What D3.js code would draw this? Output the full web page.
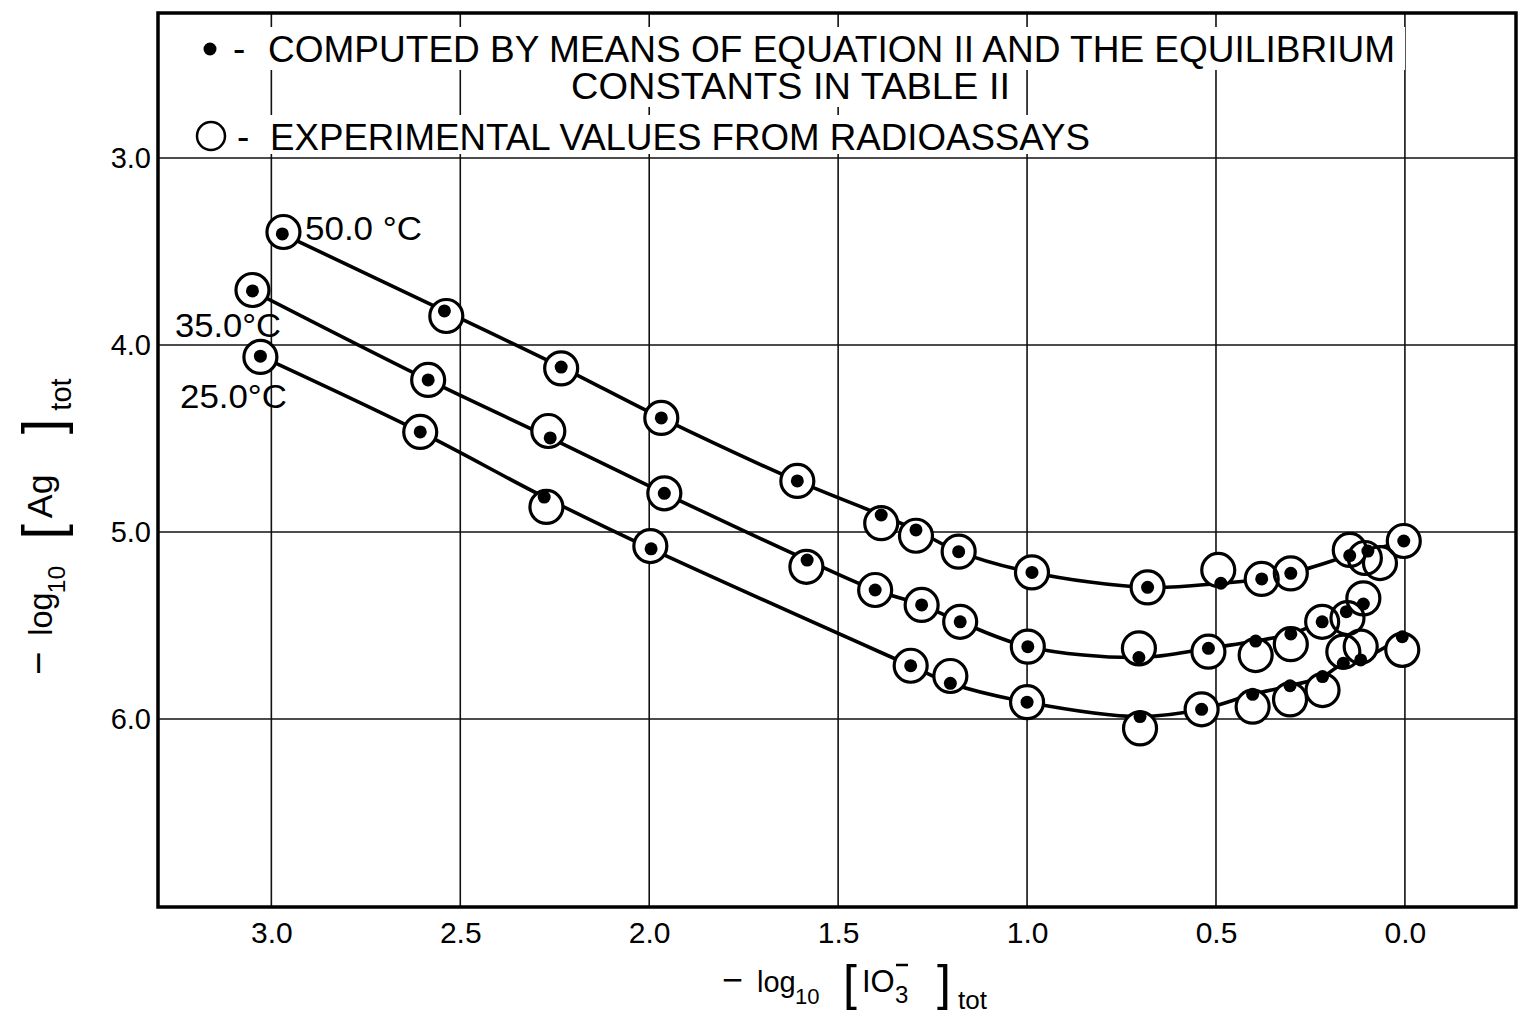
<!DOCTYPE html>
<html>
<head>
<meta charset="utf-8">
<script src="https://cdn.jsdelivr.net/npm/d3@7"></script>
<style>
  body { margin: 0; background: #fff; }
  svg { display: block; }
  text { font-family: "Liberation Sans", Arial, sans-serif; fill: #000; }
</style>
</head>
<body>
<svg width="1524" height="1019"></svg>
<script>
// axis ticks
const xTicks = [3.0, 2.5, 2.0, 1.5, 1.0, 0.5, 0.0];
const yTicks = [3.0, 4.0, 5.0, 6.0];

// -log10[IO3-]tot , -log10[Ag]tot
const computed50 = [[2.971,3.406],[2.542,3.818],[2.233,4.118],[1.968,4.39],[1.608,4.727],[1.386,4.909],
  [1.294,4.989],[1.181,5.105],[0.987,5.216],[0.681,5.296],[0.487,5.274],[0.379,5.251],[0.302,5.221],
  [0.146,5.126],[0.098,5.102],[0.003,5.048]];
const experimental50 = [[2.968,3.396],[2.537,3.845],[2.233,4.125],[1.968,4.39],[1.608,4.727],[1.386,4.953],
  [1.294,5.02],[1.181,5.105],[0.987,5.216],[0.681,5.296],[0.494,5.203],[0.379,5.251],[0.302,5.221],
  [0.146,5.096],[0.106,5.139],[0.066,5.166],[0.003,5.048]];

const computed35 = [[3.05,3.711],[2.585,4.187],[2.262,4.497],[1.96,4.793],[1.582,5.15],[1.402,5.31],
  [1.279,5.39],[1.177,5.48],[0.998,5.613],[0.704,5.671],[0.52,5.622],[0.395,5.583],[0.302,5.545],
  [0.219,5.48],[0.155,5.426],[0.11,5.385]];
const experimental35 = [[3.05,3.706],[2.585,4.187],[2.267,4.46],[1.96,4.793],[1.584,5.186],[1.402,5.31],
  [1.279,5.39],[1.177,5.48],[0.998,5.613],[0.704,5.622],[0.52,5.64],[0.395,5.658],[0.302,5.6],
  [0.219,5.48],[0.152,5.46],[0.11,5.355]];

const computed25 = [[3.029,4.06],[2.606,4.465],[2.278,4.813],[1.995,5.09],[1.308,5.715],[1.203,5.809],
  [1.0,5.91],[0.701,5.987],[0.538,5.948],[0.403,5.868],[0.304,5.822],[0.218,5.773],[0.163,5.702],
  [0.117,5.684],[0.007,5.56]];
const experimental25 = [[3.029,4.064],[2.606,4.465],[2.272,4.866],[1.997,5.075],[1.308,5.715],[1.203,5.77],
  [1.0,5.91],[0.701,6.05],[0.538,5.948],[0.403,5.934],[0.304,5.895],[0.218,5.845],[0.163,5.64],
  [0.117,5.613],[0.007,5.63]];

const seriesNames = ["50.0 °C", "35.0°C", "25.0°C"];

const svg = d3.select("svg");
const pLeft = 158, pRight = 1516, pTop = 13, pBottom = 907;

const x = d3.scaleLinear().domain([3.3, -0.294]).range([pLeft, pRight]);
const y = d3.scaleLinear().domain([2.225, 7.005]).range([pTop, pBottom]);

// grid
svg.append("g").selectAll("line").data(xTicks).enter().append("line")
  .attr("x1", d => x(d)).attr("x2", d => x(d))
  .attr("y1", pTop).attr("y2", pBottom)
  .attr("stroke", "#111").attr("stroke-width", 1.6);

// legend (white patches hide the grid behind the lettering)
const legend = svg.append("g");
const legendLines = [
  {t: "COMPUTED BY MEANS OF EQUATION II AND THE EQUILIBRIUM", x: 268, y: 62, w: 1127},
  {t: "CONSTANTS IN TABLE II", x: 571, y: 99, w: 439},
  {t: "EXPERIMENTAL VALUES FROM RADIOASSAYS", x: 270, y: 150, w: 820}
];
const bgs = legend.append("g");
const lt = legend.selectAll("text.leg").data(legendLines).enter().append("text")
  .attr("class", "leg")
  .attr("x", d => d.x).attr("y", d => d.y)
  .attr("font-size", 37)
  .attr("textLength", d => d.w).attr("lengthAdjust", "spacingAndGlyphs")
  .text(d => d.t);
lt.each(function() {
  const b = this.getBBox();
  const y0 = b.y - 2, y1 = Math.min(b.y + b.height, 154);
  bgs.append("rect").attr("x", b.x - 80).attr("y", y0)
    .attr("width", b.width + 90).attr("height", y1 - y0).attr("fill", "#fff");
});
bgs.append("rect").attr("x", 190).attr("y", 30).attr("width", 70).attr("height", 122).attr("fill", "#fff");
legend.append("circle").attr("cx", 210).attr("cy", 49).attr("r", 6.5).attr("fill", "#000");
legend.append("text").attr("x", 233).attr("y", 61).attr("font-size", 37).text("-");
legend.append("circle").attr("cx", 211).attr("cy", 136).attr("r", 14)
  .attr("fill", "none").attr("stroke", "#000").attr("stroke-width", 2.5);
legend.append("text").attr("x", 237).attr("y", 149).attr("font-size", 37).text("-");

svg.append("g").selectAll("line").data(yTicks).enter().append("line")
  .attr("x1", pLeft).attr("x2", pRight)
  .attr("y1", d => y(d)).attr("y2", d => y(d))
  .attr("stroke", "#111").attr("stroke-width", 1.6);

// frame
svg.append("rect").attr("x", pLeft).attr("y", pTop)
  .attr("width", pRight - pLeft).attr("height", pBottom - pTop)
  .attr("fill", "none").attr("stroke", "#000").attr("stroke-width", 3.5);

// axes
const xAxis = svg.append("g").attr("transform", `translate(0,${pBottom})`)
  .call(d3.axisBottom(x).tickValues(xTicks).tickFormat(d3.format(".1f")).tickSize(0).tickPadding(15));
xAxis.select(".domain").remove();
xAxis.selectAll("text").attr("font-size", 30).attr("font-family", "Liberation Sans").attr("fill", "#000");

const yAxis = svg.append("g").attr("transform", `translate(${pLeft},0)`)
  .call(d3.axisLeft(y).tickValues(yTicks).tickFormat(d3.format(".1f")).tickSize(0).tickPadding(7));
yAxis.select(".domain").remove();
yAxis.selectAll("text").attr("font-size", 29).attr("font-family", "Liberation Sans").attr("fill", "#000");

// curves and points
const line = d3.line().x(d => x(d[0])).y(d => y(d[1])).curve(d3.curveCatmullRom.alpha(0.5));
const computed = [computed50, computed35, computed25];
const experimental = [experimental50, experimental35, experimental25];

const plot = svg.append("g");
plot.selectAll("path.curve").data(computed).enter().append("path")
  .attr("class", "curve").attr("d", line)
  .attr("fill", "none").attr("stroke", "#000").attr("stroke-width", 3.6);

const allExp = experimental.flat();
plot.selectAll("circle.mask").data(allExp).enter().append("circle")
  .attr("class", "mask").attr("cx", d => x(d[0])).attr("cy", d => y(d[1])).attr("r", 16)
  .attr("fill", "#fff");
plot.selectAll("circle.exp").data(allExp).enter().append("circle")
  .attr("class", "exp").attr("cx", d => x(d[0])).attr("cy", d => y(d[1])).attr("r", 16.5)
  .attr("fill", "none").attr("stroke", "#000").attr("stroke-width", 3.2);
plot.selectAll("circle.comp").data(computed.flat()).enter().append("circle")
  .attr("class", "comp").attr("cx", d => x(d[0])).attr("cy", d => y(d[1])).attr("r", 6.5)
  .attr("fill", "#000");

// series labels
const labelPos = [{x: 305, y: 240, w: 117}, {x: 175, y: 337, w: 106}, {x: 180, y: 408, w: 107}];
svg.append("g").selectAll("text").data(seriesNames).enter().append("text")
  .attr("x", (d, i) => labelPos[i].x).attr("y", (d, i) => labelPos[i].y)
  .attr("font-size", 33)
  .attr("textLength", (d, i) => labelPos[i].w).attr("lengthAdjust", "spacingAndGlyphs")
  .text(d => d);

// axis titles: pieces laid out along the baseline
const titlePieces = (g, inner) => {
  const parts = [
    {t: "\u2212", dx: 0, dy: 0, s: 36},
    {t: "log", dx: 35, dy: 0, s: 29},
    {t: "10", dx: 73, dy: 12, s: 22},
    {t: "[", dx: 121, dy: 8, s: 50},
    ...inner,
    {t: "]", dx: 215, dy: 8, s: 50},
    {t: "tot", dx: 236, dy: 17, s: 26}
  ];
  g.selectAll("text").data(parts).enter().append("text")
    .attr("x", d => d.dx).attr("y", d => d.dy)
    .attr("font-size", d => d.s).text(d => d.t);
};

const xTitle = svg.append("g").attr("transform", "translate(722,992)");
titlePieces(xTitle, [{t: "IO", dx: 140, dy: 0, s: 31}, {t: "3", dx: 173, dy: 11, s: 24}]);
xTitle.append("line").attr("x1", 174).attr("x2", 186).attr("y1", -27).attr("y2", -27)
  .attr("stroke", "#000").attr("stroke-width", 2.5);

const yTitle = svg.append("g").attr("transform", "translate(52,675) rotate(-90) scale(1.12)");
titlePieces(yTitle, [{t: "Ag", dx: 140, dy: 0, s: 32}]);
</script>
</body>
</html>
